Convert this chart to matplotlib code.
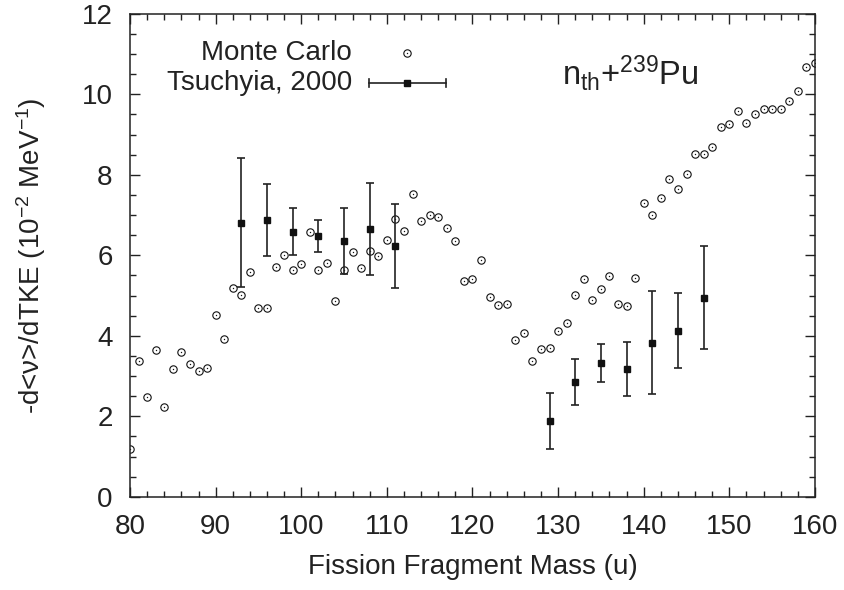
import matplotlib
matplotlib.use("Agg")
import matplotlib.pyplot as plt
from matplotlib.ticker import MultipleLocator

plt.rcParams['font.family'] = ['Liberation Sans', 'DejaVu Sans']
plt.rcParams['mathtext.fontset'] = 'custom'
plt.rcParams['mathtext.rm'] = 'Liberation Sans'
plt.rcParams['mathtext.it'] = 'Liberation Sans'
plt.rcParams['mathtext.default'] = 'regular'

# Monte Carlo
mc_mass = list(range(80, 161))
mc_vals = [1.18, 3.37, 2.47, 3.64, 2.22, 3.18, 3.59, 3.31, 3.13, 3.20,
           4.52, 3.91, 5.20, 5.01, 5.59, 4.70, 4.70, 5.72, 6.00, 5.63,
           5.78, 6.59, 5.63, 5.82, 4.86, 5.64, 6.09, 5.68, 6.11, 5.98,
           6.38, 6.91, 6.61, 7.52, 6.84, 6.99, 6.94, 6.68, 6.35, 5.37,
           5.40, 5.88, 4.96, 4.77, 4.78, 3.90, 4.08, 3.37, 3.66, 3.69,
           4.11, 4.31, 5.02, 5.40, 4.90, 5.17, 5.49, 4.80, 4.75, 5.44,
           7.30, 7.01, 7.42, 7.89, 7.64, 8.03, 8.52, 8.52, 8.70, 9.18,
           9.25, 9.59, 9.29, 9.50, 9.63, 9.63, 9.63, 9.83, 10.09, 10.69,
           10.79]

# Tsuchiya 2000
exp_mass = [93, 96, 99, 102, 105, 108, 111, 129, 132, 135, 138, 141, 144, 147]
exp_vals = [6.81, 6.88, 6.59, 6.48, 6.36, 6.66, 6.24, 1.89, 2.86, 3.33, 3.18, 3.83, 4.13, 4.95]
exp_err = [1.60, 0.90, 0.59, 0.40, 0.82, 1.14, 1.04, 0.70, 0.57, 0.47, 0.67, 1.28, 0.93, 1.29]

FS = 20

fig = plt.figure(figsize=(8.45, 5.9), dpi=100)
ax = fig.add_axes([130/845, 1-496.8/590, 685/845, 483/590])

ax.plot(mc_mass, mc_vals, ls='none', marker='o', ms=5.3, mfc='white', mec='#111111', mew=0.8)
ax.plot(mc_mass, mc_vals, ls='none', marker='o', ms=1.0, mfc='#111111', mec='#111111', mew=0)

ax.errorbar(exp_mass, exp_vals, yerr=exp_err, fmt='s', color='#111111', ms=5.0,
            ecolor='#222222', elinewidth=1.2, capsize=3, capthick=1.2)

ax.set_xlim(80, 160)
ax.set_ylim(0, 12)
ax.xaxis.set_major_locator(MultipleLocator(10))
ax.xaxis.set_minor_locator(MultipleLocator(2))
ax.yaxis.set_major_locator(MultipleLocator(2))
ax.yaxis.set_minor_locator(MultipleLocator(0.5))
ax.tick_params(which='both', direction='in', top=True, right=True, labelsize=FS, width=1.0,
               color='#222222', labelcolor='#222222')
ax.tick_params(which='major', length=7, pad=12.5)
ax.tick_params(which='minor', length=4)
for s in ax.spines.values():
    s.set_linewidth(1.1)
    s.set_color('#222222')

ax.set_xlabel('Fission Fragment Mass (u)', fontsize=FS, va='center', color='#222222')
ax.xaxis.set_label_coords(0.5, (496.8-567)/483)
ax.set_ylabel(r'-d<ν>/dTKE (10$^{-2}$ MeV$^{-1}$)', fontsize=FS, va='center', color='#222222')
ax.yaxis.set_label_coords((31-130)/685, 0.5)

ax.text(0.73, 0.8526, r'n$_{th}$+$^{239}$Pu', transform=ax.transAxes, fontsize=23.5,
        ha='center', va='baseline', color='#222222')

# gnuplot-style legend
ax.text(0.324, 0.919, 'Monte Carlo', transform=ax.transAxes, fontsize=FS, ha='right', va='center', color='#222222')
ax.text(0.324, 0.857, 'Tsuchyia, 2000', transform=ax.transAxes, fontsize=FS, ha='right', va='center', color='#222222')
ax.plot([0.404], [0.919], transform=ax.transAxes, ls='none', marker='o', ms=5.3, mfc='white', mec='#111111', mew=0.8)
ax.plot([0.404], [0.919], transform=ax.transAxes, ls='none', marker='o', ms=1.0, mfc='#111111', mew=0)
ax.plot([0.349, 0.461], [0.857, 0.857], transform=ax.transAxes, color='#222222', lw=1.2)
ax.plot([0.349, 0.349], [0.848, 0.866], transform=ax.transAxes, color='#222222', lw=1.2)
ax.plot([0.461, 0.461], [0.848, 0.866], transform=ax.transAxes, color='#222222', lw=1.2)
ax.plot([0.405], [0.857], transform=ax.transAxes, ls='none', marker='s', ms=5.0, color='#111111')

fig.savefig('out.png', dpi=100)
